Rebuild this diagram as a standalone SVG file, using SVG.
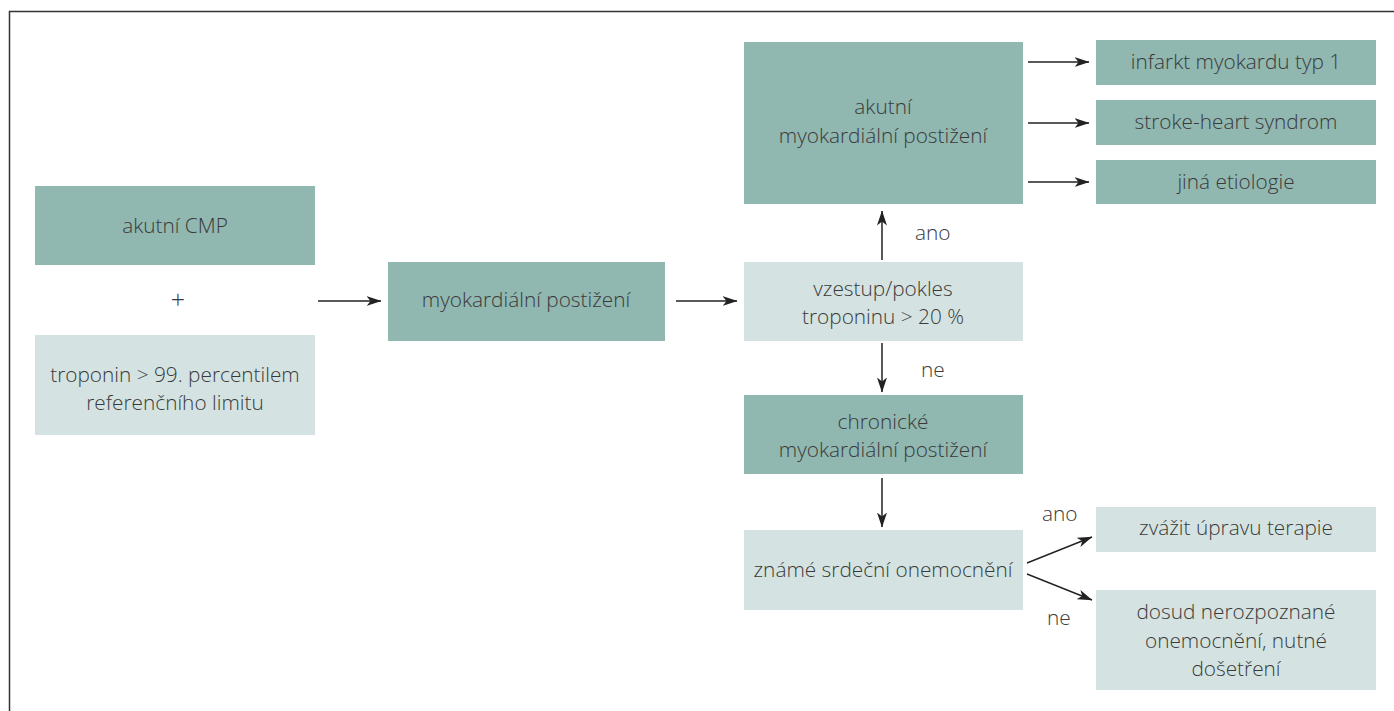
<svg xmlns="http://www.w3.org/2000/svg" width="1394" height="711" viewBox="0 0 1394 711">
<style>
.dk{fill:#91b7b1}
.lt{fill:#d4e3e1}
text{font-family:"Open Sans","Noto Sans","Liberation Sans",sans-serif;font-size:20.8px;fill:#3a3a3a;text-anchor:middle;font-weight:300}
.lbl{text-anchor:start}
.cn{stroke:#222;stroke-width:1.5;fill:none;marker-end:url(#ah)}
</style>
<defs>
<marker id="ah" viewBox="0 0 15 10" refX="14.5" refY="5" markerWidth="15" markerHeight="10" markerUnits="userSpaceOnUse" orient="auto">
<path d="M0,0 L15,5 L0,10 L4,5 Z" fill="#222"/>
</marker>
</defs>
<rect x="0" y="0" width="1394" height="711" fill="#fff"/>
<path d="M9.5,711 V11.5 H1394" stroke="#333" stroke-width="1.5" fill="none"/>

<g id="n-cmp"><rect class="dk" x="35" y="186" width="280" height="79"/><text x="175" y="233">akutní CMP</text></g>
<g id="n-plus"><text x="178" y="309" style="font-size:25px">+</text></g>
<g id="n-troponin"><rect class="lt" x="35" y="335" width="280" height="100"/><text x="175" y="382">troponin &gt; 99. percentilem</text><text x="175" y="410">referenčního limitu</text></g>
<g id="n-myo"><rect class="dk" x="388" y="262" width="277" height="79"/><text x="526" y="307">myokardiální postižení</text></g>
<g id="n-vzestup"><rect class="lt" x="744" y="262" width="279" height="79"/><text x="883" y="296">vzestup/pokles</text><text x="883" y="324">troponinu &gt; 20 %</text></g>
<g id="n-akutni"><rect class="dk" x="744" y="42" width="279" height="162"/><text x="883" y="114">akutní</text><text x="883" y="143">myokardiální postižení</text></g>
<g id="n-chronicke"><rect class="dk" x="744" y="395" width="279" height="79"/><text x="883" y="429">chronické</text><text x="883" y="457">myokardiální postižení</text></g>
<g id="n-zname"><rect class="lt" x="744" y="530" width="279" height="80"/><text x="883" y="577">známé srdeční onemocnění</text></g>
<g id="n-infarkt"><rect class="dk" x="1096" y="40" width="280" height="45"/><text x="1236" y="69">infarkt myokardu typ 1</text></g>
<g id="n-stroke"><rect class="dk" x="1096" y="100" width="280" height="45"/><text x="1236" y="129">stroke-heart syndrom</text></g>
<g id="n-jina"><rect class="dk" x="1096" y="160" width="280" height="44"/><text x="1236" y="189">jiná etiologie</text></g>
<g id="n-zvazit"><rect class="lt" x="1096" y="507" width="280" height="45"/><text x="1236" y="535">zvážit úpravu terapie</text></g>
<g id="n-dosud"><rect class="lt" x="1096" y="590" width="280" height="100"/><text x="1236" y="619">dosud nerozpoznané</text><text x="1236" y="648">onemocnění, nutné</text><text x="1236" y="676">došetření</text></g>

<g id="connectors">
<line class="cn" x1="318" y1="301" x2="381" y2="301"/>
<line class="cn" x1="676" y1="301" x2="737" y2="301"/>
<line class="cn" x1="882" y1="260" x2="882" y2="211"/>
<line class="cn" x1="882" y1="343" x2="882" y2="392"/>
<line class="cn" x1="882" y1="478" x2="882" y2="527"/>
<line class="cn" x1="1028" y1="62" x2="1089" y2="62"/>
<line class="cn" x1="1028" y1="123" x2="1089" y2="123"/>
<line class="cn" x1="1028" y1="182" x2="1089" y2="182"/>
<line class="cn" x1="1027" y1="563" x2="1092" y2="537"/>
<line class="cn" x1="1027" y1="574" x2="1092" y2="600"/>
<text class="lbl" x="915" y="240">ano</text>
<text class="lbl" x="921" y="377">ne</text>
<text class="lbl" x="1042" y="521">ano</text>
<text class="lbl" x="1047" y="625">ne</text>
</g>
</svg>
